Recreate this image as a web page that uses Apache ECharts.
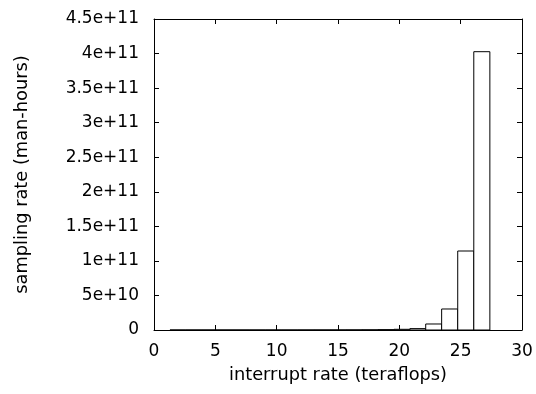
<!DOCTYPE html>
<html>
<head>
<meta charset="utf-8">
<script src="https://cdn.jsdelivr.net/npm/echarts@6/dist/echarts.min.js"></script>
<style>
  html, body { margin: 0; padding: 0; background: #fff; }
  #chart { width: 536px; height: 394px; }
</style>
</head>
<body>
<div id="chart"></div>
<script>
// histogram bins: left/right edges (teraflops) and heights (man-hours)
const binLeft = [1.30, 2.60, 3.91, 5.21, 6.52, 7.82, 9.12, 10.43, 11.73, 13.04,
  14.34, 15.64, 16.95, 18.25, 19.56, 20.86, 22.15, 23.45, 24.76, 26.07]
const binRight = [2.60, 3.91, 5.21, 6.52, 7.82, 9.12, 10.43, 11.73, 13.04, 14.34,
  15.64, 16.95, 18.25, 19.56, 20.86, 22.15, 23.45, 24.76, 26.07, 27.38]
const binValue = [1e4, 3e4, 1e5, 3e5, 1e6, 3e6, 1e7, 2e7, 4e7, 6e7,
  1e8, 1.5e8, 2.5e8, 5e8, 1e9, 2e9, 8.7e9, 3.04e10, 1.143e11, 4.027e11]

const xTicks = [0, 5, 10, 15, 20, 25, 30]
const yTicks = [0, 5e10, 1e11, 1.5e11, 2e11, 2.5e11, 3e11, 3.5e11, 4e11, 4.5e11]

const FONT = 'DejaVu Sans'
const FS = 17
const NAME_FS = 17.8

const sciLabel = (v) => {
  if (v === 0) return '0'
  const exp = Math.floor(Math.log10(v) + 1e-9)
  const mant = Math.round(v / Math.pow(10, exp) * 100) / 100
  return mant + 'e+' + exp
}

const chart = echarts.init(document.getElementById('chart'), null, { renderer: 'canvas' })

const tick = { show: true, inside: true, length: 5, lineStyle: { color: '#000', width: 1 } }
const line = { show: true, onZero: false, lineStyle: { color: '#000', width: 1 } }

const xBase = {
  type: 'value',
  min: xTicks[0],
  max: xTicks[xTicks.length - 1],
  interval: 5,
  splitLine: { show: false },
  axisLine: line,
  axisTick: tick,
}
const yBase = {
  type: 'value',
  min: yTicks[0],
  max: yTicks[yTicks.length - 1],
  interval: 5e10,
  splitLine: { show: false },
  axisLine: line,
  axisTick: tick,
}

const option = {
  animation: false,
  backgroundColor: '#fff',
  grid: { left: 154, right: 14, top: 19, bottom: 64, outerBoundsMode: 'none' },
  xAxis: [
    {
      ...xBase,
      position: 'bottom',
      name: 'interrupt rate (teraflops)',
      nameLocation: 'middle',
      nameGap: 36,
      nameTextStyle: { fontFamily: FONT, fontSize: NAME_FS, color: '#000' },
      axisLabel: { margin: 13, fontFamily: FONT, fontSize: FS, color: '#000' },
    },
    { ...xBase, position: 'top', axisLabel: { show: false } },
  ],
  yAxis: [
    {
      ...yBase,
      position: 'left',
      name: 'sampling rate (man-hours)',
      nameLocation: 'middle',
      nameRotate: 90,
      nameGap: 123,
      nameTextStyle: { fontFamily: FONT, fontSize: NAME_FS, color: '#000' },
      axisLabel: {
        margin: 15,
        fontFamily: FONT,
        fontSize: FS,
        color: '#000',
        formatter: sciLabel,
      },
    },
    { ...yBase, position: 'right', axisLabel: { show: false } },
  ],
  series: [
    {
      type: 'custom',
      xAxisIndex: 0,
      yAxisIndex: 0,
      data: binValue.map((v, i) => [binLeft[i], binRight[i], v]),
      renderItem: (params, api) => {
        const topLeft = api.coord([api.value(0), api.value(2)])
        const bottomRight = api.coord([api.value(1), 0])
        return {
          type: 'rect',
          shape: {
            x: topLeft[0],
            y: topLeft[1],
            width: bottomRight[0] - topLeft[0],
            height: bottomRight[1] - topLeft[1],
          },
          style: { fill: '#fff', stroke: '#000', lineWidth: 1 },
        }
      },
    },
  ],
}

chart.setOption(option)
</script>
</body>
</html>
